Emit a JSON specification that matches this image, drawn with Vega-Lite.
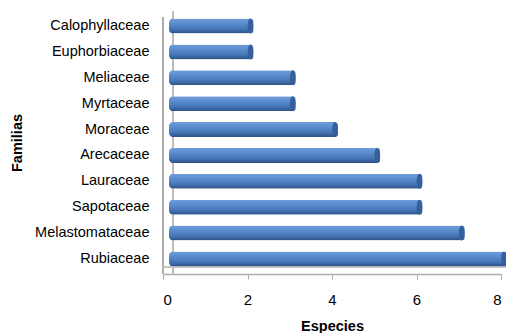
{
  "$schema": "https://vega.github.io/schema/vega-lite/v6.json",
  "width": 338,
  "height": 263,
  "autosize": {"type": "none"},
  "padding": {"left": 163, "top": 11, "right": 5, "bottom": 59},
  "background": "white",
  "data": {
    "values": [
      {"familia": "Calophyllaceae", "especies": 2},
      {"familia": "Euphorbiaceae", "especies": 2},
      {"familia": "Meliaceae", "especies": 3},
      {"familia": "Myrtaceae", "especies": 3},
      {"familia": "Moraceae", "especies": 4},
      {"familia": "Arecaceae", "especies": 5},
      {"familia": "Lauraceae", "especies": 6},
      {"familia": "Sapotaceae", "especies": 6},
      {"familia": "Melastomataceae", "especies": 7},
      {"familia": "Rubiaceae", "especies": 8}
    ]
  },
  "config": {
    "view": {"stroke": null},
    "font": "Liberation Sans",
    "axis": {
      "labelFont": "Liberation Sans",
      "titleFont": "Liberation Sans",
      "labelColor": "#000000",
      "titleColor": "#000000",
      "domainColor": "#ababab",
      "tickColor": "#ababab",
      "grid": false
    }
  },
  "encoding": {
    "y": {
      "field": "familia",
      "type": "nominal",
      "sort": null,
      "scale": {
        "domain": ["Calophyllaceae", "Euphorbiaceae", "Meliaceae", "Myrtaceae", "Moraceae", "Arecaceae", "Lauraceae", "Sapotaceae", "Melastomataceae", "Rubiaceae"],
        "paddingInner": 0.4,
        "paddingOuter": 0.28
      },
      "axis": {
        "title": "Familias",
        "titleFontSize": 14.5,
        "titleFontWeight": "bold",
        "titleX": -139,
        "labelFontSize": 14.5,
        "labelPadding": 14,
        "ticks": false,
        "domain": false
      }
    }
  },
  "layer": [
    {
      "description": "front wall of the 3D frame",
      "mark": {"type": "rule", "color": "#ababab", "strokeWidth": 1.5, "yOffset": 6},
      "encoding": {
        "y": null,
        "x": {"datum": 0, "type": "quantitative", "scale": {"domain": [0, 8], "nice": false}, "axis": null}
      }
    },
    {
      "description": "back wall of the 3D frame",
      "mark": {"type": "rule", "color": "#bdbdbd", "strokeWidth": 1.3, "xOffset": 10, "y2Offset": -6},
      "encoding": {
        "y": null,
        "x": {"datum": 0, "type": "quantitative", "scale": {"domain": [0, 8], "nice": false}, "axis": null}
      }
    },
    {
      "description": "back floor edge",
      "mark": {"type": "rule", "color": "#c4c4c4", "strokeWidth": 1.2, "xOffset": 10, "x2Offset": 10},
      "encoding": {
        "y": {"datum": "Rubiaceae", "type": "nominal", "bandPosition": 1}
      }
    },
    {
      "description": "x axis (front floor)",
      "mark": {"type": "tick", "opacity": 0},
      "encoding": {
        "x": {
          "field": "especies",
          "type": "quantitative",
          "scale": {"domain": [0, 8], "nice": false},
          "axis": {
            "title": "Especies",
            "titleFontSize": 14.5,
            "titleFontWeight": "bold",
            "titlePadding": 12,
            "values": [0, 2, 4, 6, 8],
            "labelFontSize": 15,
            "labelPadding": 13,
            "tickSize": 5,
            "domainWidth": 1.5
          }
        }
      }
    },
    {
      "description": "cylinder bodies",
      "mark": {
        "type": "bar",
        "size": 15,
        "cornerRadiusEnd": 3,
        "cornerRadiusTopLeft": 4,
        "cornerRadiusBottomLeft": 4,
        "clip": false,
        "color": {
          "gradient": "linear",
          "x1": 0, "y1": 0, "x2": 0, "y2": 1,
          "stops": [
            {"offset": 0, "color": "#709dd8"},
            {"offset": 0.3, "color": "#5b8ed0"},
            {"offset": 0.7, "color": "#4675b6"},
            {"offset": 1, "color": "#2c5184"}
          ]
        }
      },
      "encoding": {
        "x": {
          "field": "especies",
          "type": "quantitative",
          "scale": {"domain": [0, 8], "nice": false, "range": [6, 344]},
          "axis": null
        }
      }
    },
    {
      "description": "cylinder end caps",
      "mark": {
        "type": "point",
        "filled": true,
        "opacity": 1,
        "xOffset": -3,
        "size": 225,
        "shape": "M0,-1 A0.38,1 0 1,1 0,1 A0.38,1 0 1,1 0,-1 Z",
        "color": "#375f9c",
        "clip": false
      },
      "encoding": {
        "x": {
          "field": "especies",
          "type": "quantitative",
          "scale": {"domain": [0, 8], "nice": false, "range": [6, 344]},
          "axis": null
        }
      }
    }
  ],
  "resolve": {"scale": {"x": "independent"}}
}
